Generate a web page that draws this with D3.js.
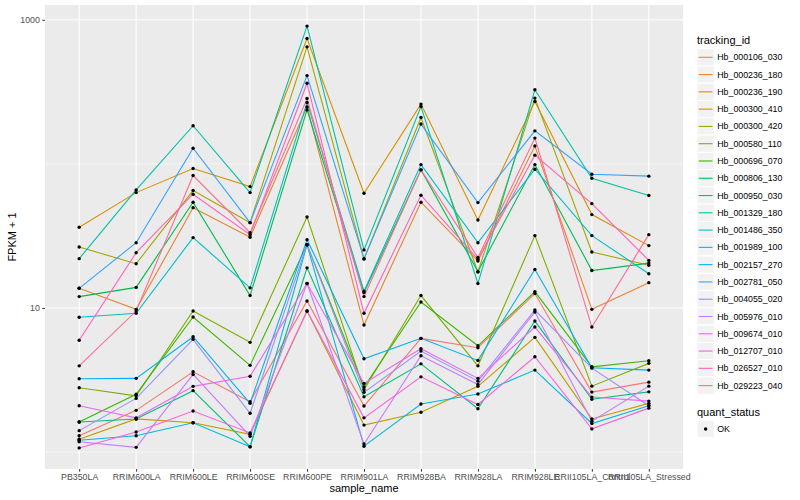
<!DOCTYPE html>
<html><head><meta charset="utf-8">
<script src="https://cdn.jsdelivr.net/npm/d3@7"></script>
<style>
body{margin:0;background:#fff}
text{font-family:"Liberation Sans",Arial,Helvetica,sans-serif}
</style>
</head><body>
<svg id="c" width="800" height="500"></svg>
<script>
// ---- data ----
const samples = ["PB350LA","RRIM600LA","RRIM600LE","RRIM600SE","RRIM600PE","RRIM901LA","RRIM928BA","RRIM928LA","RRIM928LE","RRII105LA_Control","RRII105LA_Stressed"];
const trackingIds = ["Hb_000106_030","Hb_000236_180","Hb_000236_190","Hb_000300_410","Hb_000300_420","Hb_000580_110","Hb_000696_070","Hb_000806_130","Hb_000950_030","Hb_001329_180","Hb_001486_350","Hb_001989_100","Hb_002157_270","Hb_002781_050","Hb_004055_020","Hb_005976_010","Hb_009674_010","Hb_012707_010","Hb_026527_010","Hb_029223_040"];
const yTickValues = [10, 1000];
const yMinorValues = [1, 100];
const quantStatus = ["OK"];

const Hb_000106_030 = [1.30, 1.95, 3.61, 2.24, 11.2, 2.09, 6.16, 5.30, 12.6, 2.61, 3.06];
const Hb_000236_180 = [13.7, 9.79, 49.7, 31.0, 248, 7.62, 54.2, 21.2, 133, 9.79, 15.0];
const Hb_000236_190 = [36.3, 63.2, 92.8, 69.6, 742, 62.6, 260, 40.8, 271, 44.5, 27.1];
const Hb_000300_410 = [1.23, 1.70, 1.60, 1.33, 9.53, 1.54, 1.89, 2.86, 6.26, 1.70, 2.18];
const Hb_000300_420 = [26.5, 20.3, 65.3, 39.1, 649, 21.9, 210, 17.8, 286, 24.5, 19.8];
const Hb_000580_110 = [2.80, 2.46, 9.53, 5.78, 42.8, 2.71, 12.2, 3.97, 31.8, 2.87, 4.13];
const Hb_000696_070 = [1.62, 2.52, 8.66, 4.00, 27.5, 2.83, 11.0, 5.47, 13.0, 3.91, 4.31];
const Hb_000806_130 = [12.0, 13.9, 54.2, 12.2, 237, 12.8, 90.9, 17.9, 98.9, 18.2, 20.5];
const Hb_000950_030 = [1.62, 1.70, 2.67, 1.09, 19.0, 2.42, 4.10, 2.00, 8.12, 2.33, 2.62];
const Hb_001329_180 = [22.0, 66.0, 184, 63.2, 904, 25.3, 250, 14.8, 327, 79.6, 60.3];
const Hb_001486_350 = [8.62, 9.19, 30.8, 13.8, 267, 13.1, 98.9, 28.4, 91.9, 31.8, 17.3];
const Hb_001989_100 = [1.21, 1.30, 1.60, 1.09, 27.5, 1.10, 2.16, 2.53, 3.71, 1.58, 2.10];
const Hb_002157_270 = [3.23, 3.25, 6.32, 2.18, 29.8, 4.45, 6.16, 4.33, 18.5, 3.85, 3.71];
const Hb_002781_050 = [13.7, 28.4, 128.5, 39.1, 410, 22.0, 189, 53.9, 169.5, 84.8, 82.2];
const Hb_004055_020 = [1.41, 2.36, 6.06, 1.86, 27.5, 2.60, 5.03, 3.11, 9.69, 3.83, 2.10];
const Hb_005976_010 = [1.18, 1.08, 3.46, 1.29, 14.8, 1.14, 4.67, 2.95, 9.38, 1.64, 2.87];
const Hb_009674_010 = [2.10, 1.73, 2.86, 3.36, 14.8, 3.00, 5.22, 3.25, 7.38, 2.41, 2.26];
const Hb_012707_010 = [1.07, 1.38, 1.93, 1.36, 9.53, 1.73, 3.33, 2.14, 4.59, 1.45, 2.02];
const Hb_026527_010 = [5.97, 24.2, 61.6, 32.3, 363, 9.19, 60.6, 21.8, 115, 53.0, 21.4];
const Hb_029223_040 = [3.97, 9.53, 83.0, 33.3, 284, 12.0, 90.9, 22.4, 151, 7.38, 32.3];

const seriesValues = [Hb_000106_030,Hb_000236_180,Hb_000236_190,Hb_000300_410,Hb_000300_420,Hb_000580_110,Hb_000696_070,Hb_000806_130,Hb_000950_030,Hb_001329_180,Hb_001486_350,Hb_001989_100,Hb_002157_270,Hb_002781_050,Hb_004055_020,Hb_005976_010,Hb_009674_010,Hb_012707_010,Hb_026527_010,Hb_029223_040];

// ggplot2 hue palette, 20 levels
const palette = ["#F8766D","#EA8331","#D89000","#C09B00","#A3A500","#7CAE00","#39B600","#00BB4E","#00BF7D","#00C1A3","#00BFC4","#00BAE0","#00B0F6","#35A2FF","#9590FF","#C77CFF","#E76BF3","#FA62DB","#FF62BC","#FF6C91"];

// ---- layout ----
const svg = d3.select("#c");
const P = {l:45, r:683, t:5, b:469};

const series = trackingIds.map((id,i)=>({id, values: seriesValues[i].map((v,j)=>({s:samples[j], v}))}));
const all = seriesValues.flat();
const lmin = Math.log10(d3.min(all)), lmax = Math.log10(d3.max(all));
const ex = (lmax-lmin)*0.05;

const x = d3.scalePoint().domain(samples).range([P.l, P.r]).padding(0.6);
const y = d3.scaleLog().domain([Math.pow(10,lmin-ex), Math.pow(10,lmax+ex)]).range([P.b, P.t]);
const color = d3.scaleOrdinal().domain(trackingIds).range(palette);

svg.append("rect").attr("x",P.l).attr("y",P.t).attr("width",P.r-P.l).attr("height",P.b-P.t).attr("fill","#EBEBEB");

// grid
const g = svg.append("g");
g.selectAll(".ymin").data(yMinorValues).join("line")
  .attr("x1",P.l).attr("x2",P.r).attr("y1",d=>y(d)).attr("y2",d=>y(d))
  .attr("stroke","#fff").attr("stroke-width",0.55);
g.selectAll(".ymaj").data(yTickValues).join("line")
  .attr("x1",P.l).attr("x2",P.r).attr("y1",d=>y(d)).attr("y2",d=>y(d))
  .attr("stroke","#fff").attr("stroke-width",1.1);
g.selectAll(".xmaj").data(samples).join("line")
  .attr("x1",d=>x(d)).attr("x2",d=>x(d)).attr("y1",P.t).attr("y2",P.b)
  .attr("stroke","#fff").attr("stroke-width",1.1);

// lines
const line = d3.line().x(d=>x(d.s)).y(d=>y(d.v));
svg.append("g").selectAll("path").data(series).join("path")
  .attr("d",d=>line(d.values)).attr("fill","none")
  .attr("stroke",d=>color(d.id)).attr("stroke-width",1.1);

// points
svg.append("g").selectAll("circle").data(series.flatMap(d=>d.values)).join("circle")
  .attr("cx",d=>x(d.s)).attr("cy",d=>y(d.v)).attr("r",1.7).attr("fill","#000");

// axes
const yAxis = d3.axisLeft(y).tickValues(yTickValues).tickFormat(d3.format("d")).tickSize(2.7).tickPadding(2.5);
const ya = svg.append("g").attr("transform",`translate(${P.l},0)`).call(yAxis);
ya.select(".domain").remove();
ya.selectAll(".tick line").attr("stroke","#333").attr("stroke-width",1);
ya.selectAll(".tick text").attr("fill","#4D4D4D").style("font-size","8.8px").style("font-family","Liberation Sans, Arial, sans-serif");

const xAxis = d3.axisBottom(x).tickSize(2.7).tickPadding(2.5);
const xa = svg.append("g").attr("transform",`translate(0,${P.b})`).call(xAxis);
xa.select(".domain").remove();
xa.selectAll(".tick line").attr("stroke","#333").attr("stroke-width",1);
xa.selectAll(".tick text").attr("fill","#4D4D4D").style("font-size","8.8px").style("font-family","Liberation Sans, Arial, sans-serif");

svg.append("text").attr("x",(P.l+P.r)/2).attr("y",492).attr("text-anchor","middle")
  .style("font-size","11px").attr("fill","#000").text("sample_name");
svg.append("text").attr("transform",`translate(16,${(P.t+P.b)/2}) rotate(-90)`).attr("text-anchor","middle")
  .style("font-size","11px").attr("fill","#000").text("FPKM + 1");

// legend
const lg = svg.append("g");
lg.append("text").attr("x",697).attr("y",43.5).style("font-size","11px").text("tracking_id");
const ks = 17.28, k0 = 57.3;
const items = lg.selectAll(".it").data(trackingIds).join("g")
  .attr("transform",(d,i)=>`translate(697,${k0 + i*ks - ks/2})`);
items.append("rect").attr("width",ks).attr("height",ks).attr("fill","#F2F2F2").attr("stroke","#fff").attr("stroke-width",1);
items.append("line").attr("x1",ks*0.1).attr("x2",ks*0.9).attr("y1",ks/2).attr("y2",ks/2)
  .attr("stroke",d=>color(d)).attr("stroke-width",1.1);
items.append("text").attr("x",ks+3).attr("y",ks/2).attr("dy","0.35em").style("font-size","8.8px").attr("fill","#000").text(d=>d);

lg.append("text").attr("x",697).attr("y",415.5).style("font-size","11px").text("quant_status");
const q = lg.selectAll(".q").data(quantStatus).join("g").attr("transform",(d,i)=>`translate(697,${429 + i*ks - ks/2})`);
q.append("rect").attr("width",ks).attr("height",ks).attr("fill","#F2F2F2").attr("stroke","#fff").attr("stroke-width",1);
q.append("circle").attr("cx",ks/2).attr("cy",ks/2).attr("r",1.7).attr("fill","#000");
q.append("text").attr("x",ks+3).attr("y",ks/2).attr("dy","0.35em").style("font-size","8.8px").text(d=>d);
</script>
</body></html>
